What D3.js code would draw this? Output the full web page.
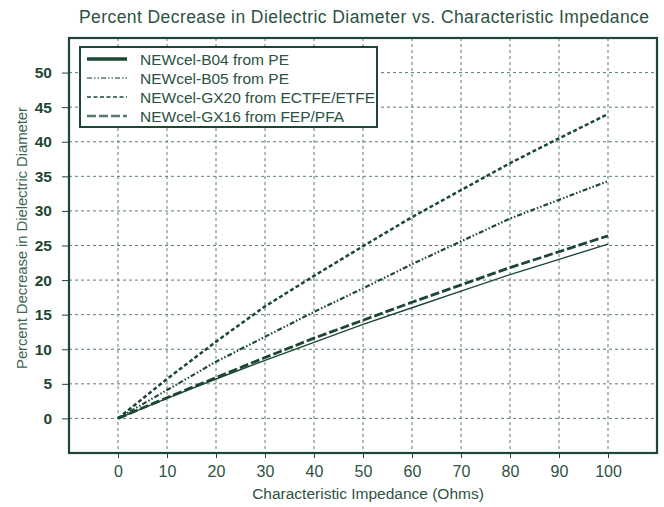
<!DOCTYPE html>
<html><head><meta charset="utf-8">
<script src="https://cdn.jsdelivr.net/npm/d3@7"></script>
<style>
body{margin:0;background:#fff;}
svg text{font-family:"Liberation Sans",Arial,sans-serif;}
</style></head>
<body>
<svg id="c" width="664" height="507"></svg>
<script>
const xValues = [0,10,20,30,40,50,60,70,80,90,100];
const seriesNames = ["NEWcel-B04 from PE","NEWcel-B05 from PE","NEWcel-GX20 from ECTFE/ETFE","NEWcel-GX16 from FEP/PFA"];
const b04 = [0,2.9,5.7,8.4,11.0,13.6,16.0,18.4,20.8,23.0,25.2];
const b05 = [0,4.1,8.2,11.8,15.4,18.8,22.3,25.6,28.9,31.6,34.3];
const gx20 = [0,5.7,11.1,16.2,20.6,24.9,29.1,33.0,36.9,40.5,44.0];
const gx16 = [0,3.0,5.9,8.8,11.6,14.2,16.8,19.3,21.8,24.1,26.4];
const xTicks = [0,10,20,30,40,50,60,70,80,90,100];
const yTicks = [0,5,10,15,20,25,30,35,40,45,50];

const dark = "#1d4733";
const textC = "#2c5241";
const gridC = "#5f7d6f";

const svg = d3.select("#c");
const L=69, R=657, T=38, B=453;
const x = d3.scaleLinear().domain([-10,110]).range([L,R]);
const y = d3.scaleLinear().domain([-5,55]).range([B,T]);

// grid
svg.append("g").selectAll("line").data(xTicks).join("line")
  .attr("x1",d=>x(d)).attr("x2",d=>x(d)).attr("y1",T).attr("y2",B)
  .attr("stroke",gridC).attr("stroke-width",1).attr("stroke-dasharray","3,3");
svg.append("g").selectAll("line").data(yTicks).join("line")
  .attr("x1",L).attr("x2",R).attr("y1",d=>y(d)).attr("y2",d=>y(d))
  .attr("stroke",gridC).attr("stroke-width",1).attr("stroke-dasharray","3,3");

// axes
const xAxis = d3.axisBottom(x).tickValues(xTicks).tickSize(5).tickPadding(5);
const gx = svg.append("g").attr("transform",`translate(0,${B})`).call(xAxis);
gx.select(".domain").remove();
gx.selectAll(".tick line").attr("stroke",dark);
gx.selectAll(".tick text").attr("fill",textC).style("font-size","16px")
  .style("font-family","'Liberation Sans Narrow','Liberation Sans',sans-serif").attr("dy","0.85em");

const yAxis = d3.axisLeft(y).tickValues(yTicks).tickSize(7).tickPadding(10);
const gy = svg.append("g").attr("transform",`translate(${L},0)`).call(yAxis);
gy.select(".domain").remove();
gy.selectAll(".tick line").attr("stroke",dark);
gy.selectAll(".tick text").attr("fill",dark).style("font-size","15.5px").style("font-weight","bold");

// lines
const series = [
  {name:seriesNames[0], vals:b04, w:1.4, dash:null, lw:3.5, lc:dark},
  {name:seriesNames[1], vals:b05, w:2.2, dash:"5,2,1.5,2,1.5,2", lw:1.5, lc:"#5a7a6a"},
  {name:seriesNames[2], vals:gx20, w:2.5, dash:"4,2.5", lw:1.5, lc:dark},
  {name:seriesNames[3], vals:gx16, w:2.8, dash:"9,3", lw:2.5, lc:"#5a7a6a"}
];
const line = d3.line().x((d,i)=>x(xValues[i])).y(d=>y(d));
series.forEach(s=>{
  svg.append("path").datum(s.vals).attr("d",line).attr("fill","none")
    .attr("stroke",dark).attr("stroke-width",s.w)
    .attr("stroke-dasharray",s.dash);
});

// frame
svg.append("rect").attr("x",L).attr("y",T).attr("width",R-L).attr("height",B-T)
  .attr("fill","none").attr("stroke",dark).attr("stroke-width",2.2);

// legend
const lg = svg.append("g");
lg.append("rect").attr("x",80).attr("y",47).attr("width",297).attr("height",80)
  .attr("fill","#fff").attr("stroke",dark).attr("stroke-width",2);
series.forEach((s,i)=>{
  const yy = 59 + i*19;
  lg.append("line").attr("x1",87).attr("x2",127).attr("y1",yy).attr("y2",yy)
    .attr("stroke",s.lc).attr("stroke-width",s.lw).attr("stroke-dasharray",s.dash);
  lg.append("text").attr("x",140).attr("y",yy+5.5).attr("fill",textC)
    .style("font-size","15.5px").text(s.name);
});

// titles
svg.append("text").attr("x",364).attr("y",23).attr("text-anchor","middle")
  .attr("fill",textC).style("font-size","17.5px").attr("textLength",570)
  .text("Percent Decrease in Dielectric Diameter vs. Characteristic Impedance");
svg.append("text").attr("x",368).attr("y",499).attr("text-anchor","middle")
  .attr("fill",textC).style("font-size","15.5px")
  .text("Characteristic Impedance (Ohms)");
svg.append("text").attr("transform","translate(27,238) rotate(-90)").attr("text-anchor","middle")
  .attr("fill","#3d6652").style("font-size","15px").attr("textLength",262)
  .text("Percent Decrease in Dielectric Diameter");
</script>
</body></html>
